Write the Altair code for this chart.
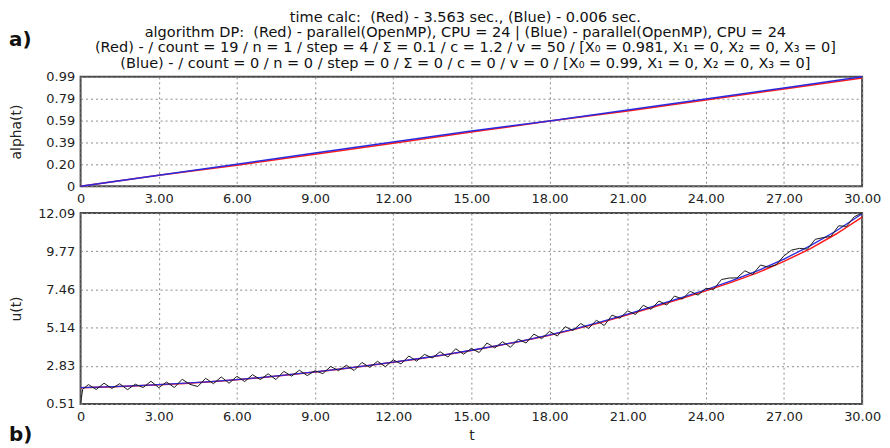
import altair as alt
import pandas as pd

# ---------------- data ----------------
# top panel: alpha(t)
t_alpha = [0, 3, 6, 9, 12, 15, 18, 21, 24, 27, 30]
alpha_red = [0, 0.10, 0.19, 0.29, 0.39, 0.49, 0.59, 0.68, 0.78, 0.88, 0.98]
alpha_blue = [0, 0.10, 0.20, 0.30, 0.40, 0.50, 0.59, 0.69, 0.79, 0.89, 0.99]

# bottom panel: u(t)
t_u = list(range(0, 31))
u_blue = [1.50, 1.55, 1.61, 1.68, 1.77, 1.87, 1.99, 2.13, 2.29, 2.46,
          2.64, 2.84, 3.05, 3.27, 3.51, 3.77, 4.05, 4.36, 4.70, 5.08,
          5.50, 5.96, 6.44, 6.93, 7.44, 7.99, 8.60, 9.30, 10.10, 11.00, 12.05]
u_red = [1.49, 1.54, 1.60, 1.67, 1.76, 1.86, 1.98, 2.12, 2.28, 2.45,
         2.63, 2.83, 3.04, 3.26, 3.50, 3.76, 4.04, 4.35, 4.68, 5.05,
         5.46, 5.92, 6.39, 6.87, 7.37, 7.90, 8.48, 9.16, 9.92, 10.82, 11.85]

t_black = [0.0, 0.08, 0.3, 0.6, 0.9, 1.2, 1.5, 1.8, 2.1, 2.4, 2.7, 3.0, 3.3, 3.6, 3.9,
           4.2, 4.5, 4.8, 5.1, 5.4, 5.7, 6.0, 6.3, 6.6, 6.9, 7.2, 7.5, 7.8, 8.1,
           8.4, 8.7, 9.0, 9.3, 9.6, 9.9, 10.2, 10.5, 10.8, 11.1, 11.4, 11.7, 12.0,
           12.3, 12.6, 12.9, 13.2, 13.5, 13.8, 14.1, 14.4, 14.7, 15.0, 15.3, 15.6,
           15.9, 16.2, 16.5, 16.8, 17.1, 17.4, 17.7, 18.0, 18.3, 18.6, 18.9, 19.2,
           19.5, 19.8, 20.1, 20.4, 20.7, 21.0, 21.3, 21.6, 21.9, 22.2, 22.5, 22.8,
           23.1, 23.4, 23.7, 24.0, 24.3, 24.6, 24.9, 25.2, 25.5, 25.8, 26.1, 26.4,
           26.7, 27.0, 27.3, 27.6, 27.9, 28.2, 28.5, 28.8, 29.1, 29.4, 29.7, 30.0]
u_black = [0.55, 1.40, 1.69, 1.39, 1.77, 1.45, 1.74, 1.38, 1.71, 1.51, 1.89, 1.50, 1.84,
           1.51, 2.01, 1.70, 1.57, 2.07, 1.74, 2.15, 1.77, 2.19, 1.87, 2.29, 1.99,
           2.34, 1.99, 2.49, 2.20, 2.56, 2.23, 2.53, 2.35, 2.79, 2.53, 2.86, 2.54,
           3.03, 2.73, 3.10, 2.77, 3.19, 2.94, 3.42, 3.11, 3.52, 3.30, 3.68, 3.36,
           3.86, 3.53, 3.88, 3.63, 4.21, 3.91, 4.29, 3.95, 4.44, 4.21, 4.75, 4.47,
           4.92, 4.63, 5.20, 4.97, 5.39, 5.09, 5.59, 5.27, 5.90, 5.71, 6.16, 5.94,
           6.50, 6.25, 6.76, 6.51, 7.06, 6.87, 7.35, 7.11, 7.53, 7.46, 8.06, 8.15,
           8.16, 8.59, 8.37, 8.94, 8.81, 8.95, 9.50, 9.85, 9.95, 9.90, 10.50, 10.60,
           10.67, 11.32, 11.28, 11.87, 12.09]

x_ticks = [0, 3, 6, 9, 12, 15, 18, 21, 24, 27, 30]
alpha_ticks = [0, 0.198, 0.396, 0.594, 0.792, 0.99]
alpha_tick_labels = ["0", "0.20", "0.39", "0.59", "0.79", "0.99"]
u_ticks = [0.51, 2.826, 5.142, 7.458, 9.774, 12.09]
u_tick_labels = ["0.51", "2.83", "5.14", "7.46", "9.77", "12.09"]

NB = "\u00a0"
title_lines = [
    "time calc:" + NB + NB + "(Red) - 3.563 sec., (Blue) - 0.006 sec.",
    "algorithm DP:" + NB + NB + "(Red) - parallel(OpenMP), CPU = 24 | (Blue) - parallel(OpenMP), CPU = 24",
    "(Red) - / count = 19 / n = 1 / step = 4 / \u03a3 = 0.1 / c = 1.2 / v = 50 / [X\u2080 = 0.981, X\u2081 = 0, X\u2082 = 0, X\u2083 = 0]",
    "(Blue) - / count = 0 / n = 0 / step = 0 / \u03a3 = 0 / c = 0 / v = 0 / [X\u2080 = 0.99, X\u2081 = 0, X\u2082 = 0, X\u2083 = 0]",
]

RED = "#ff1a1a"
BLUE = "#2a2ae0"
FONT = "DejaVu Sans"
W = 786


def label_expr(ticks, labels):
    parts = []
    for v, l in zip(ticks, labels):
        parts.append(f"abs(datum.value - {v}) < 1e-6 ? '{l}'")
    return " : ".join(parts) + " : ''"


x_label_expr = "datum.value == 0 ? '0' : format(datum.value, '.2f')"

grid_axis = dict(
    grid=True, gridColor="#8a8a8a", gridDash=[2, 3], gridWidth=1,
    domain=False, ticks=False, labelFont=FONT, labelFontSize=13,
    labelColor="#222", titleFont=FONT, titleFontSize=14,
    titleFontWeight="normal", titleColor="#222", labelFlush=False,
    labelOverlap=False, tickCount=20,
)

# ---------------- top panel ----------------
df_a = pd.DataFrame({"t": t_alpha, "red": alpha_red, "blue": alpha_blue})

xa = alt.X("t:Q", scale=alt.Scale(domain=[0, 30], nice=False),
           axis=alt.Axis(values=x_ticks, labelExpr=x_label_expr, title=None,
                         labelPadding=6, **grid_axis))
ya_axis = alt.Axis(values=alpha_ticks, labelExpr=label_expr(alpha_ticks, alpha_tick_labels),
                   title="alpha(t)", labelPadding=6, titlePadding=22, **grid_axis)

top_red = alt.Chart(df_a).mark_line(color=RED, strokeWidth=1.5).encode(
    x=xa, y=alt.Y("red:Q", scale=alt.Scale(domain=[0, 0.99], nice=False), axis=ya_axis))
top_blue = alt.Chart(df_a).mark_line(color=BLUE, strokeWidth=1.5).encode(
    x="t:Q", y="blue:Q")
label_a = alt.Chart(pd.DataFrame({"l": ["a)"]})).mark_text(
    font=FONT, fontSize=20, fontWeight="bold", align="left", baseline="middle",
    color="#111").encode(text="l:N", x=alt.value(-72), y=alt.value(-37))
title_txt = alt.Chart(pd.DataFrame({"l": ["\n".join(title_lines)]})).mark_text(
    font=FONT, fontSize=14.6, align="center", baseline="top", lineBreak="\n",
    lineHeight=15.2, color="#111").encode(
    text="l:N", x=alt.value(W / 2 - 6), y=alt.value(-67))

top = alt.layer(top_red, top_blue, label_a, title_txt).properties(width=W, height=110)

# ---------------- bottom panel ----------------
df_u = pd.DataFrame({"t": t_u, "red": u_red, "blue": u_blue})
df_k = pd.DataFrame({"t": t_black, "u": u_black})

xb = alt.X("t:Q", scale=alt.Scale(domain=[0, 30], nice=False),
           axis=alt.Axis(values=x_ticks, labelExpr=x_label_expr, title="t",
                         labelPadding=7, titlePadding=5, **grid_axis))
yb_axis = alt.Axis(values=u_ticks, labelExpr=label_expr(u_ticks, u_tick_labels),
                   title="u(t)", labelPadding=6, titlePadding=14, **grid_axis)
yscale = alt.Scale(domain=[0.51, 12.09], nice=False)

bot_red = alt.Chart(df_u).mark_line(color=RED, strokeWidth=1.5).encode(
    x=xb, y=alt.Y("red:Q", scale=yscale, axis=yb_axis))
bot_blue = alt.Chart(df_u).mark_line(color=BLUE, strokeWidth=1.3).encode(
    x="t:Q", y="blue:Q")
bot_black = alt.Chart(df_k).mark_line(color="#1a1a1a", strokeWidth=1, clip=True).encode(
    x="t:Q", y="u:Q")
label_b = alt.Chart(pd.DataFrame({"l": ["b)"]})).mark_text(
    font=FONT, fontSize=20, fontWeight="bold", align="left", baseline="middle",
    color="#111").encode(text="l:N", x=alt.value(-72), y=alt.value(223))

bottom = alt.layer(bot_red, bot_blue, bot_black, label_b).properties(width=W, height=192)

chart = alt.vconcat(top, bottom, spacing=27, bounds="flush").properties(
    padding={"left": 0, "top": 0, "right": 0, "bottom": 0},
    background="white",
).configure_view(stroke="#4a4a4a", strokeWidth=2)

chart.save("out.html", embed_options={"renderer": "svg", "actions": False})
